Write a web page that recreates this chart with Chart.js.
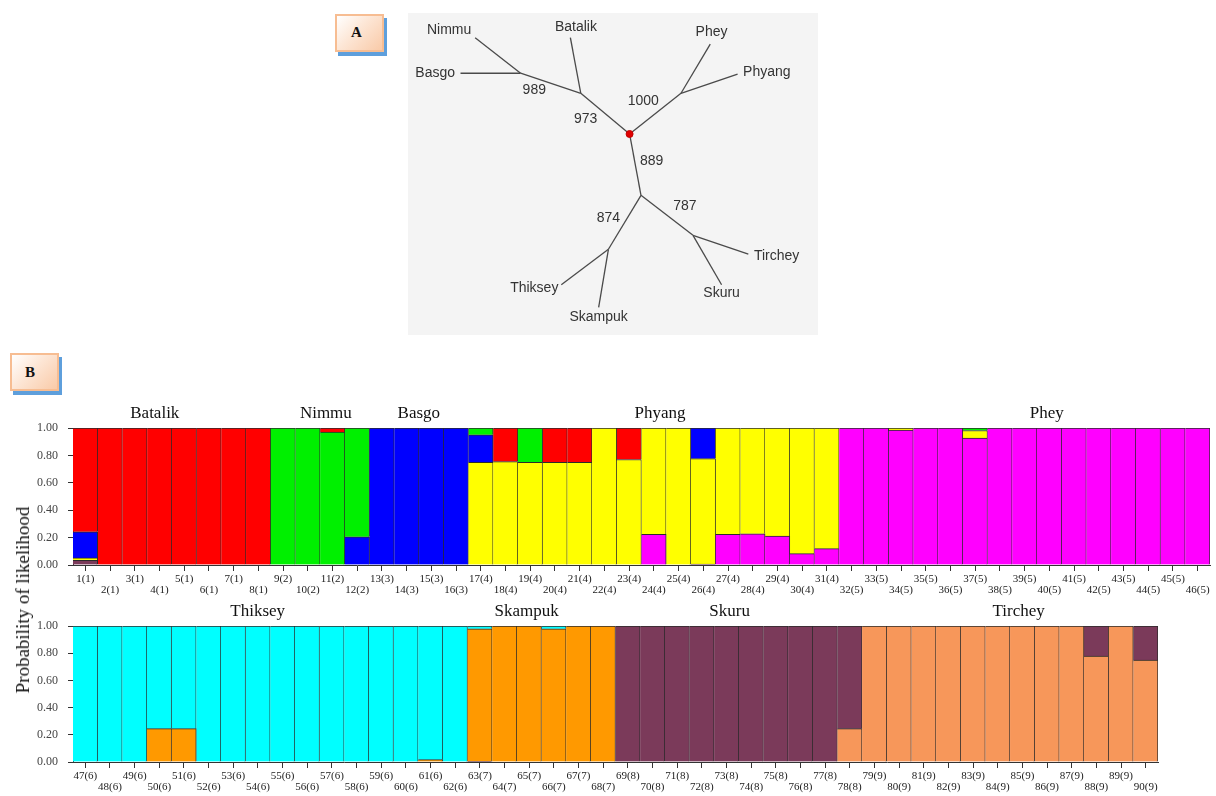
<!DOCTYPE html>
<html>
<head>
<meta charset="utf-8">
<script src="https://cdn.jsdelivr.net/npm/chart.js@4.4.1/dist/chart.umd.min.js"></script>
<style>
  html,body{margin:0;padding:0;background:#fff;}
  body{width:1216px;height:796px;position:relative;overflow:hidden;}
  canvas{position:absolute;}
  .panel{position:absolute;box-sizing:border-box;border:2px solid #f7bd92;
    background:linear-gradient(135deg,#ffffff 0%,#fde6d5 45%,#f9caa8 100%);
    box-shadow:3px 4px 0 #5e9fdc;font:bold 15px "Liberation Serif",serif;color:#111;}
  #ytitle{position:absolute;left:23px;top:600px;transform:translate(-50%,-50%) rotate(-90deg);
    font:19px "Liberation Serif",serif;color:#111;white-space:nowrap;}
</style>
</head>
<body>
<div style="position:absolute;left:408px;top:13px;width:410px;height:322px;background:#f4f4f4"></div>
<canvas id="tree" width="410" height="322" style="left:408px;top:13px"></canvas>
<div class="panel" style="left:335px;top:14px;width:49px;height:38px;padding:8px 0 0 14px">A</div>
<div class="panel" style="left:10px;top:353px;width:49px;height:38px;padding:9px 0 0 13px">B</div>
<canvas id="topBars" width="1216" height="210" style="left:0;top:395px"></canvas>
<canvas id="bottomBars" width="1216" height="204" style="left:0;top:592px"></canvas>
<div id="ytitle">Probability of likelihood</div>
<script>
// ---------------- Panel A: neighbour-joining tree ----------------
const nodeNames = ["root","n973","n989","Nimmu","Basgo","Batalik","n1000","Phey","Phyang","n889","n874","Thiksey","Skampuk","n787","Tirchey","Skuru"];
const nodeX = [222, 172, 110.3, 63.7, 48.7, 161.3, 274.7, 304.7, 332.7, 233.7, 200.3, 152, 190.3, 287, 343.7, 316.3];
const nodeY = [119.7, 77.7, 57, 20.3, 57, 20.3, 77.7, 27, 58, 183, 238.7, 275.3, 298.7, 224.3, 243.7, 275.3];
const edgeFrom = ["root","n973","n989","n989","n973","root","n1000","n1000","root","n889","n874","n874","n889","n787","n787"];
const edgeTo   = ["n973","n989","Nimmu","Basgo","Batalik","n1000","Phey","Phyang","n889","n874","Thiksey","Skampuk","n787","Tirchey","Skuru"];
const treeLabelText = ["Nimmu","Batalik","Basgo","Phey","Phyang","989","973","1000","889","787","874","Tirchey","Skuru","Thiksey","Skampuk"];
const treeLabelX = [37, 167, 22.7, 306, 362.7, 124.3, 177, 236, 244.7, 278.7, 200.3, 372.7, 316.3, 124.3, 190.3];
const treeLabelY = [13, 9.7, 57, 14.3, 56.3, 74.3, 104.7, 86.3, 148, 193.7, 207, 245.7, 284.3, 279.3, 308.7];

// ---------------- Panel B: STRUCTURE membership (individuals 1-90) ----------------
const individualLabels = [
 "1(1)","2(1)","3(1)","4(1)","5(1)","6(1)","7(1)","8(1)","9(2)","10(2)",
 "11(2)","12(2)","13(3)","14(3)","15(3)","16(3)","17(4)","18(4)","19(4)","20(4)",
 "21(4)","22(4)","23(4)","24(4)","25(4)","26(4)","27(4)","28(4)","29(4)","30(4)",
 "31(4)","32(5)","33(5)","34(5)","35(5)","36(5)","37(5)","38(5)","39(5)","40(5)",
 "41(5)","42(5)","43(5)","44(5)","45(5)","46(5)","47(6)","48(6)","49(6)","50(6)",
 "51(6)","52(6)","53(6)","54(6)","55(6)","56(6)","57(6)","58(6)","59(6)","60(6)",
 "61(6)","62(6)","63(7)","64(7)","65(7)","66(7)","67(7)","68(7)","69(8)","70(8)",
 "71(8)","72(8)","73(8)","74(8)","75(8)","76(8)","77(8)","78(8)","79(9)","80(9)",
 "81(9)","82(9)","83(9)","84(9)","85(9)","86(9)","87(9)","88(9)","89(9)","90(9)"];

const batalikQ = [
 .758,1,1,1,1,1,1,1,0,0,
 .03,0,0,0,0,0,0,.245,0,.25,
 .25,0,.23,0,0,0,0,0,0,0,
 0,0,0,0,0,0,0,0,0,0,
 0,0,0,0,0,0,0,0,0,0,
 0,0,0,0,0,0,0,0,0,0,
 0,0,0,0,0,0,0,0,0,0,
 0,0,0,0,0,0,0,0,0,0,
 0,0,0,0,0,0,0,0,0,0];
const nimmuQ = [
 0,0,0,0,0,0,0,0,1,1,
 .97,.794,0,0,0,0,.05,0,.25,0,
 0,0,0,0,0,0,0,0,0,0,
 0,0,0,0,0,0,.018,0,0,0,
 0,0,0,0,0,0,0,0,0,0,
 0,0,0,0,0,0,0,0,0,0,
 0,0,0,0,0,0,0,0,0,0,
 0,0,0,0,0,0,0,0,0,0,
 0,0,0,0,0,0,0,0,0,0];
const basgoQ = [
 .19,0,0,0,0,0,0,0,0,0,
 0,.206,1,1,1,1,.2,0,0,0,
 0,0,0,0,0,.223,0,0,0,0,
 0,0,0,0,0,0,0,0,0,0,
 0,0,0,0,0,0,0,0,0,0,
 0,0,0,0,0,0,0,0,0,0,
 0,0,0,0,0,0,0,0,0,0,
 0,0,0,0,0,0,0,0,0,0,
 0,0,0,0,0,0,0,0,0,0];
const phyangQ = [
 .017,0,0,0,0,0,0,0,0,0,
 0,0,0,0,0,0,.75,.755,.75,.75,
 .75,1,.77,.777,1,.77,.777,.772,.789,.917,
 .881,0,0,.015,0,0,.055,0,0,0,
 0,0,0,0,0,0,0,0,0,0,
 0,0,0,0,0,0,0,0,0,0,
 0,0,0,0,0,0,0,0,0,0,
 0,0,0,0,0,0,0,0,0,0,
 0,0,0,0,0,0,0,0,0,0];
const pheyQ = [
 0,0,0,0,0,0,0,0,0,0,
 0,0,0,0,0,0,0,0,0,0,
 0,0,0,.223,0,0,.223,.228,.211,.083,
 .119,1,1,.985,1,1,.927,1,1,1,
 1,1,1,1,1,1,0,0,0,0,
 0,0,0,0,0,0,0,0,0,0,
 0,0,0,0,0,0,0,0,0,0,
 0,0,0,0,0,0,0,0,0,0,
 0,0,0,0,0,0,0,0,0,0];
const thikseyQ = [
 0,0,0,0,0,0,0,0,0,0,
 0,0,0,0,0,0,0,0,0,0,
 0,0,0,0,0,0,0,0,0,0,
 0,0,0,0,0,0,0,0,0,0,
 0,0,0,0,0,0,1,1,1,.755,
 .755,1,1,1,1,1,1,1,1,1,
 .983,1,.02,0,0,.02,0,0,0,0,
 0,0,0,0,0,0,0,0,0,0,
 0,0,0,0,0,0,0,0,0,0];
const skampukQ = [
 0,0,0,0,0,0,0,0,0,0,
 0,0,0,0,0,0,0,0,0,0,
 0,0,0,0,0,0,0,0,0,0,
 0,0,0,0,0,0,0,0,0,0,
 0,0,0,0,0,0,0,0,0,.245,
 .245,0,0,0,0,0,0,0,0,0,
 .017,0,.975,1,1,.98,1,1,0,0,
 0,0,0,0,0,0,0,0,0,0,
 0,0,0,0,0,0,0,0,0,0];
const skuruQ = [
 .035,0,0,0,0,0,0,0,0,0,
 0,0,0,0,0,0,0,0,0,0,
 0,0,0,0,0,.007,0,0,0,0,
 0,0,0,0,0,0,0,0,0,0,
 0,0,0,0,0,0,0,0,0,0,
 0,0,0,0,0,0,0,0,0,0,
 0,0,.005,0,0,0,0,0,1,1,
 1,1,1,1,1,1,1,.755,0,0,
 0,0,0,0,0,0,0,.222,0,.251];
const tircheyQ = [
 0,0,0,0,0,0,0,0,0,0,
 0,0,0,0,0,0,0,0,0,0,
 0,0,0,0,0,0,0,0,0,0,
 0,0,0,0,0,0,0,0,0,0,
 0,0,0,0,0,0,0,0,0,0,
 0,0,0,0,0,0,0,0,0,0,
 0,0,0,0,0,0,0,0,0,0,
 0,0,0,0,0,0,0,.245,1,1,
 1,1,1,1,1,1,1,.778,1,.749];

// stacking order (bottom -> top) and colours
const clusterNames  = ["Tirchey","Skuru","Skampuk","Thiksey","Phey","Phyang","Basgo","Nimmu","Batalik"];
const clusterValues = [tircheyQ, skuruQ, skampukQ, thikseyQ, pheyQ, phyangQ, basgoQ, nimmuQ, batalikQ];
const clusterColors = ["#f7975a","#7b3a5a","#ff9900","#00ffff","#ff00ff","#ffff00","#0000ff","#00f000","#ff0000"];

const topCount = 46;
const topGroupNames = ["Batalik","Nimmu","Basgo","Phyang","Phey"];
const topGroupAt = [2.81, 9.73, 13.49, 23.25, 38.9];
const bottomGroupNames = ["Thiksey","Skampuk","Skuru","Tirchey"];
const bottomGroupAt = [6.99, 17.9, 26.13, 37.85];
const yTicks = [0, 0.2, 0.4, 0.6, 0.8, 1.0];

// ---------------- drawing ----------------
const SERIF = '"Liberation Serif","Times New Roman",serif';
const SANS = '"Liberation Sans",Arial,sans-serif';

const treeLabelPlugin = {
  id: 'treeLabels',
  afterDatasetsDraw(chart) {
    const {ctx, scales:{x, y}} = chart;
    ctx.save();
    ctx.font = '14px ' + SANS;
    ctx.fillStyle = '#333';
    ctx.textAlign = 'center';
    ctx.textBaseline = 'middle';
    treeLabelText.forEach((t, i) => ctx.fillText(t, x.getPixelForValue(treeLabelX[i]), y.getPixelForValue(treeLabelY[i])));
    ctx.restore();
  }
};

const nodeIndex = n => nodeNames.indexOf(n);
const treeDatasets = [{
  data: [{x: nodeX[0], y: nodeY[0]}],
  pointRadius: 3.5, pointBackgroundColor: '#e00000', pointBorderColor: '#c00000', showLine: false
}];
edgeFrom.forEach((a, i) => {
  const ia = nodeIndex(a), ib = nodeIndex(edgeTo[i]);
  treeDatasets.push({
    data: [{x: nodeX[ia], y: nodeY[ia]}, {x: nodeX[ib], y: nodeY[ib]}],
    showLine: true, borderColor: '#4a4a4a', borderWidth: 1.3, pointRadius: 0, fill: false
  });
});

new Chart(document.getElementById('tree'), {
  type: 'scatter',
  data: {datasets: treeDatasets},
  options: {
    responsive: false, animation: false, devicePixelRatio: 1,
    layout: {padding: 0},
    plugins: {legend: {display: false}, tooltip: {enabled: false}},
    scales: {
      x: {type: 'linear', min: 0, max: 410, display: false},
      y: {type: 'linear', min: 0, max: 322, reverse: true, display: false}
    }
  },
  plugins: [treeLabelPlugin]
});

const groupLabelPlugin = {
  id: 'groupLabels',
  afterDraw(chart, args, opts) {
    const {ctx, chartArea, scales:{x}} = chart;
    ctx.save();
    ctx.font = '17px ' + SERIF;
    ctx.fillStyle = '#111';
    ctx.textAlign = 'center';
    ctx.textBaseline = 'middle';
    opts.names.forEach((n, i) => ctx.fillText(n, x.getPixelForValue(opts.at[i]), chartArea.top - 14));
    ctx.restore();
  }
};

function makeBars(canvasId, labels, sliceFrom, sliceTo, padTop, padRight, axisHeight, names, at) {
  return new Chart(document.getElementById(canvasId), {
    type: 'bar',
    data: {
      labels: labels,
      datasets: clusterNames.map((n, k) => ({
        label: n,
        data: clusterValues[k].slice(sliceFrom, sliceTo),
        backgroundColor: clusterColors[k],
        borderColor: '#2b2b2b',
        borderWidth: {top: 1, right: 1, bottom: 0, left: 0},
        borderSkipped: false,
        barPercentage: 1, categoryPercentage: 1
      }))
    },
    options: {
      responsive: false, animation: false, devicePixelRatio: 1,
      layout: {padding: {top: padTop, right: padRight, left: 0, bottom: 0}},
      plugins: {legend: {display: false}, tooltip: {enabled: false}, groupLabels: {names: names, at: at}},
      scales: {
        x: {
          stacked: true, offset: true,
          grid: {offset: false, drawOnChartArea: false, drawTicks: true, tickLength: 6, color: '#333'},
          border: {color: '#333', width: 1},
          ticks: {
            autoSkip: false, maxRotation: 0, minRotation: 0, padding: 3, color: '#222',
            font: {family: SERIF, size: 11, lineHeight: 1},
            callback: function(v, i) {
              const l = this.getLabelForValue(v);
              return i % 2 === 0 ? [l, ''] : ['', l];
            }
          },
          afterFit: s => { s.height = axisHeight; }
        },
        y: {
          stacked: true, min: 0, max: 1,
          afterBuildTicks: s => { s.ticks = yTicks.map(v => ({value: v})); },
          grid: {drawOnChartArea: false, drawTicks: true, tickLength: 5, color: '#333'},
          border: {color: '#333', width: 1},
          ticks: {padding: 10, color: '#444', font: {family: SERIF, size: 12},
                  callback: v => Number(v).toFixed(2)},
          afterFit: s => { s.width = 73; }
        }
      }
    },
    plugins: [groupLabelPlugin]
  });
}

makeBars('topBars', individualLabels.slice(0, topCount), 0, topCount, 33, 6, 40, topGroupNames, topGroupAt);
makeBars('bottomBars', individualLabels.slice(topCount), topCount, individualLabels.length, 34, 58, 34, bottomGroupNames, bottomGroupAt);
</script>
</body>
</html>
